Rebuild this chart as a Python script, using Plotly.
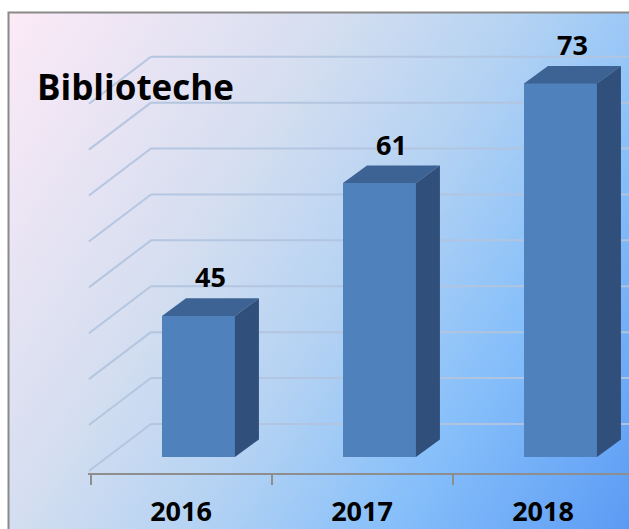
import base64
import plotly.graph_objects as go

# ---------------- data ----------------
categories = ["2016", "2017", "2018"]
values = [45, 61, 73]
grid_values = [0, 10, 20, 30, 40, 50, 60, 70, 80]
title_text = "Biblioteche"

# ---------------- style / geometry ----------------
W, H = 629, 529
FLOOR = 28.0            # value of the 3D floor (front edge of bars)
BAR_OFFSET = -0.105     # bar front-face left edge relative to category centre
BAR_WIDTH = 0.403
DEPTH_X = 0.1326        # bar depth (x units)
DEPTH_Y = 2.11          # bar depth (y units)
WALL_BASE = 31.98       # back-wall floor line in y units
WALL_SCALE = 0.553      # back-wall scale factor
WALL_LEFT = -0.166      # back-wall left edge (x units)
WALL_DX = 0.3425        # side-wall depth (x)
WALL_DY = 5.66          # side-wall depth (y)
X_RANGE = [-0.5138, 2.4751]
Y_RANGE = [26.07, 83.06]
LABEL_PAD = 0.5

FRONT = "#4f81bd"
TOP = "#3c6393"
SIDE = "#30507b"
GRID = "rgba(178,196,222,0.95)"
AXIS = "#8e8e8e"
FONT = "Open Sans"

xs = list(range(len(categories)))

fig = go.Figure()

# front faces
fig.add_trace(go.Bar(
    x=xs, y=[v - FLOOR for v in values], base=FLOOR,
    width=BAR_WIDTH, offset=BAR_OFFSET,
    marker=dict(color=FRONT, line=dict(width=0)),
    hoverinfo="skip", showlegend=False,
))

# top and side faces
for i, v in zip(xs, values):
    xl = i + BAR_OFFSET
    xr = xl + BAR_WIDTH
    fig.add_trace(go.Scatter(
        x=[xl, xr, xr + DEPTH_X, xl + DEPTH_X, xl],
        y=[v, v, v + DEPTH_Y, v + DEPTH_Y, v],
        fill="toself", fillcolor=TOP, mode="lines", line=dict(width=0),
        hoverinfo="skip", showlegend=False,
    ))
    fig.add_trace(go.Scatter(
        x=[xr, xr, xr + DEPTH_X, xr + DEPTH_X, xr],
        y=[FLOOR, v, v + DEPTH_Y, FLOOR + DEPTH_Y, FLOOR],
        fill="toself", fillcolor=SIDE, mode="lines", line=dict(width=0),
        hoverinfo="skip", showlegend=False,
    ))

# value labels
fig.add_trace(go.Scatter(
    x=[i + BAR_OFFSET + BAR_WIDTH / 2 + DEPTH_X / 2 for i in xs],
    y=[v + DEPTH_Y + LABEL_PAD for v in values],
    text=[str(v) for v in values],
    mode="text", textposition="top center",
    textfont=dict(family=FONT, size=27, color="black", weight="bold"),
    hoverinfo="skip", showlegend=False, cliponaxis=False,
))

# back-wall and side-wall gridlines
shapes = []
for g in grid_values:
    yb = WALL_BASE + WALL_SCALE * g
    shapes.append(dict(type="line", xref="x", yref="y", layer="below",
                       x0=WALL_LEFT - WALL_DX, y0=yb - WALL_DY, x1=WALL_LEFT, y1=yb,
                       line=dict(color=GRID, width=2)))
    shapes.append(dict(type="line", xref="x", yref="y", layer="below",
                       x0=WALL_LEFT, y0=yb, x1=X_RANGE[1] + 0.2, y1=yb,
                       line=dict(color=GRID, width=2)))

# chart-area border
shapes.append(dict(type="rect", xref="paper", yref="paper",
                   x0=8.5 / W, y0=1 - 12.5 / H, x1=1.1, y1=-0.1,
                   line=dict(color="#8a8a8a", width=2), fillcolor="rgba(0,0,0,0)",
                   layer="above"))

# gradient background
svg = (
    '<svg xmlns="http://www.w3.org/2000/svg" width="621" height="517" preserveAspectRatio="none">'
    '<defs><linearGradient id="g" x1="0" y1="0" x2="1.19" y2="0.64">'
    '<stop offset="0" stop-color="#fdeaf7"/>'
    '<stop offset="0.35" stop-color="#d4def0"/>'
    '<stop offset="0.55" stop-color="#b3d2f3"/>'
    '<stop offset="0.75" stop-color="#86bffa"/>'
    '<stop offset="1" stop-color="#5c9bf4"/>'
    '</linearGradient></defs>'
    '<rect width="621" height="517" fill="url(#g)"/></svg>'
)
src = "data:image/svg+xml;base64," + base64.b64encode(svg.encode()).decode()

fig.update_layout(
    width=W, height=H,
    margin=dict(l=0, r=0, t=0, b=0, autoexpand=False),
    paper_bgcolor="white",
    plot_bgcolor="rgba(0,0,0,0)",
    bargap=0,
    shapes=shapes,
    images=[dict(source=src, xref="paper", yref="paper",
                 x=8 / W, y=1 - 12 / H, sizex=621 / W, sizey=517 / H,
                 xanchor="left", yanchor="top", sizing="stretch", layer="below")],
    annotations=[dict(text=title_text, xref="paper", yref="paper",
                      x=135 / W, y=1 - 86 / H, xanchor="center", yanchor="middle",
                      showarrow=False,
                      font=dict(family=FONT, size=35, color="black", weight="bold"))],
    xaxis=dict(
        range=X_RANGE, domain=[88 / W, 1], automargin=False,
        tickmode="array", tickvals=xs, ticktext=categories, ticks="",
        showline=True, linecolor=AXIS, linewidth=2,
        showgrid=False, zeroline=False,
        tickfont=dict(family=FONT, size=27, color="black", weight="bold"),
        ticklabelstandoff=14,
        minor=dict(tickmode="array", tickvals=[-0.5, 0.5, 1.5, 2.5], ticks="outside",
                   ticklen=10, tickcolor=AXIS, tickwidth=2, showgrid=False),
        fixedrange=True,
    ),
    yaxis=dict(range=Y_RANGE, domain=[(H - 473) / H, 1], visible=False,
               automargin=False, fixedrange=True),
)

fig.write_html(
    "out.html",
    config={"displayModeBar": False},
    post_script="document.body.style.margin='0';document.body.style.overflow='hidden';",
)
